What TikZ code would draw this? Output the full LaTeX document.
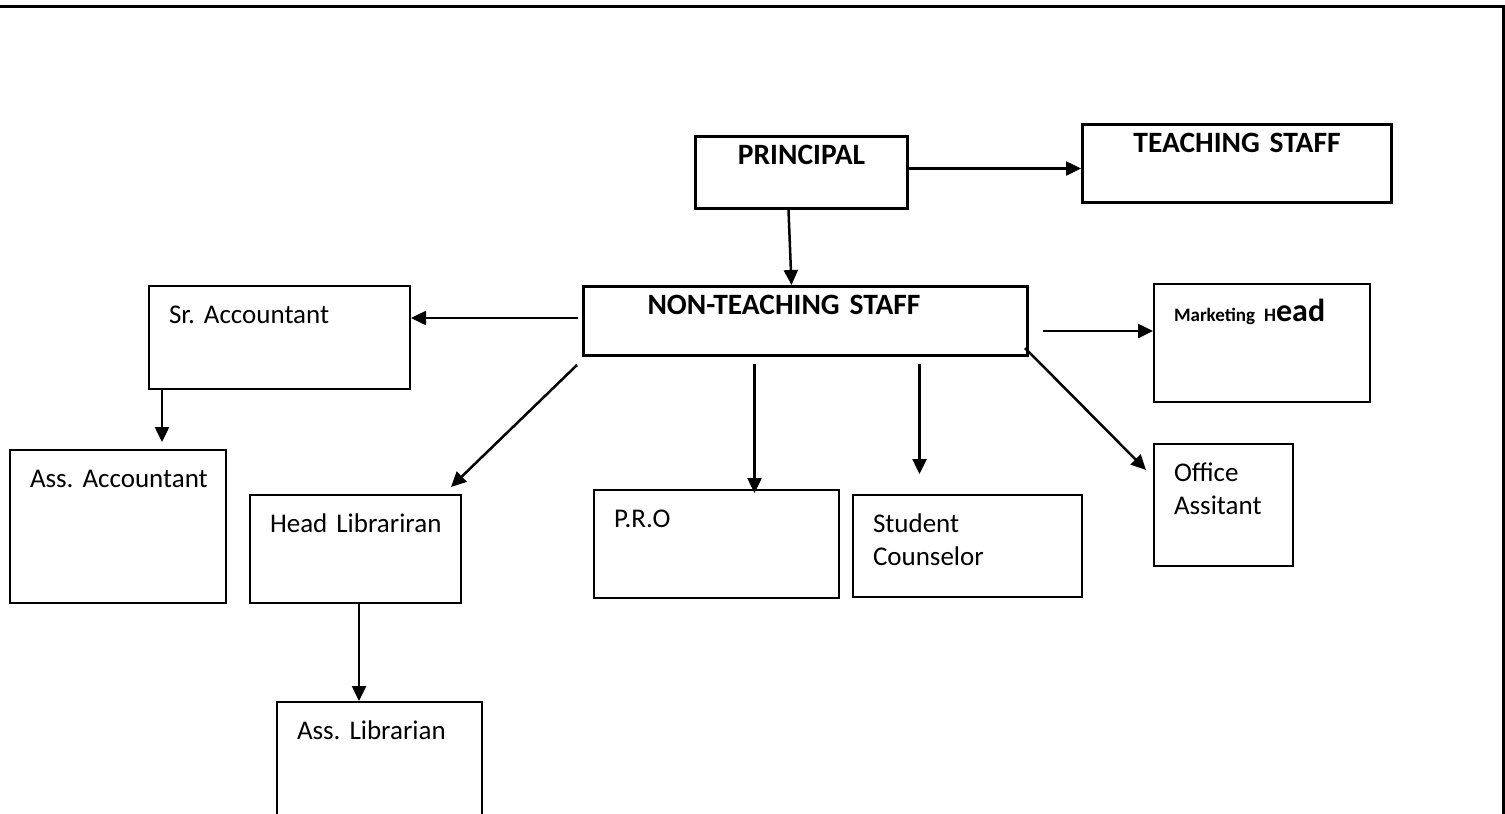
\documentclass[tikz,border=0pt]{standalone}
\usepackage{fontspec}
\setmainfont{Carlito}
\usetikzlibrary{arrows.meta}
\frenchspacing
\begin{document}
\begin{tikzpicture}[x=1pt, y=-1pt, every node/.style={draw,rectangle,anchor=north west,align=left,line width=2pt,inner xsep=20pt,inner ysep=0pt,text height=37pt,font=\fontsize{27}{33}\selectfont}, head/.style={line width=3pt,text height=28pt,font=\fontsize{29.5}{35}\selectfont\bfseries}, arr/.style={line width=2.5pt,-{Triangle[length=15pt,width=14pt]}}]
	\useasboundingbox (0,0) rectangle (1505,814);
	\draw[line width=3pt] (0,6) -- (1503,6) -- (1503,814);
	\node[head,align=center,text width=172pt,text depth=44pt] (principal) at (694,135) {PRINCIPAL};
	\node[head,align=center,text width=269pt,text depth=50pt] (teaching) at (1081,123) {TEACHING STAFF};
	\node[head,inner xsep=64pt,text width=316pt,text depth=41pt] (nonteaching) at (582,285) {NON-TEACHING STAFF};
	\node[text width=221pt,text depth=66pt] (sraccount) at (148,285) {Sr. Accountant};
	\node[text width=176pt,text depth=116pt] (assaccount) at (9,449) {\mbox{Ass. Accountant}};
	\node[text width=171pt,text depth=71pt] (headlib) at (249,494) {\mbox{Head Librariran}};
	\node[text width=165pt,text depth=76pt] (asslib) at (276,701) {Ass. Librarian};
	\node[text width=205pt,text depth=71pt] (pro) at (593,489) {P.R.O};
	\node[text width=189pt,text depth=65pt] (counselor) at (852,494) {Student\\Counselor};
	\node[text width=176pt,text depth=81pt] (marketing) at (1153,283) {\bfseries{\fontsize{19}{23}\selectfont Marketing H}{\fontsize{32}{33}\selectfont ead}};
	\node[text width=99pt,text depth=85pt] (office) at (1153,443) {Office\\Assitant};
	\draw[arr] ([yshift=4pt]principal.east) -- ([yshift=4pt]principal.east -| teaching.west);
	\draw[arr] ([xshift=-13pt]principal.south) -- ([xshift=-14pt]nonteaching.north);
	\draw[arr] ([xshift=-4pt,yshift=3pt]nonteaching.west) -- ([yshift=3pt]nonteaching.west -| sraccount.east);
	\draw[arr] ([xshift=14pt,yshift=-10pt]nonteaching.east) -- ([yshift=-10pt]nonteaching.east -| marketing.west);
	\draw[arr] ([xshift=-4pt,yshift=9pt]nonteaching.south east) -- ([xshift=-7pt,yshift=-27pt]office.north west);
	\draw[arr] ([xshift=-5pt,yshift=-8pt]nonteaching.south west) -- ([xshift=-11pt,yshift=7pt]headlib.north east);
	\draw[arr] ([xshift=-51pt,yshift=-7pt]nonteaching.south) -- ([xshift=-51pt,yshift=-4pt]nonteaching.south |- pro.north);
	\draw[arr] ([xshift=114pt,yshift=-7pt]nonteaching.south) -- ([xshift=114pt,yshift=20pt]nonteaching.south |- counselor.north);
	\draw[arr] ([xshift=14pt]sraccount.south west) -- ([xshift=14pt,yshift=7pt]sraccount.south west |- assaccount.north);
	\draw[arr] ([xshift=3.5pt]headlib.south) -- ([xshift=3.5pt]headlib.south |- asslib.north);
\end{tikzpicture}
\end{document}
